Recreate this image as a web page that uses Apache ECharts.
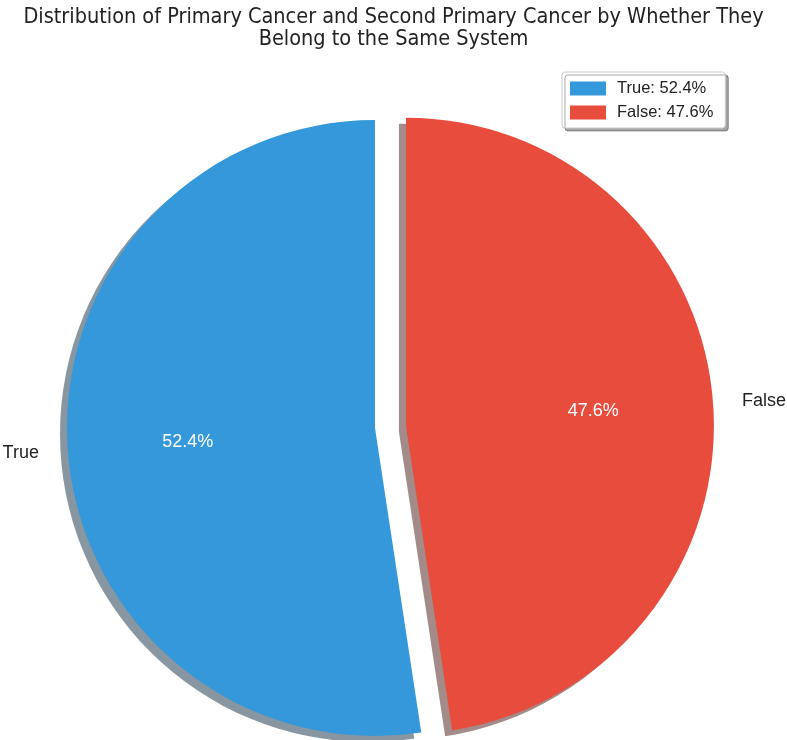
<!DOCTYPE html>
<html>
<head>
<meta charset="utf-8">
<script src="https://cdn.jsdelivr.net/npm/echarts@6/dist/echarts.min.js"></script>
<style>
  html, body { margin: 0; padding: 0; background: #fff; }
  #chart { width: 787px; height: 740px; }
</style>
</head>
<body>
<div id="chart"></div>
<script>
const categories = ['True', 'False'];
const percentages = [52.4, 47.6];
const explodedCategory = 'False';
const titleText = 'Distribution of Primary Cancer and Second Primary Cancer by Whether They\nBelong to the Same System';

const palette = ['#3498db', '#e74c3c'];
const shadowPalette = ['rgba(16,46,66,0.5)', 'rgba(69,23,18,0.5)'];

const R = 308;
const CENTER = [375, 428];
const EXPLODE = 31;

const mainData = categories.map((c, i) => ({
  name: c,
  value: percentages[i],
  selected: c === explodedCategory,
  itemStyle: { color: palette[i], shadowColor: shadowPalette[i] }
}));
const overlayData = categories.map((c, i) => ({
  name: c,
  value: percentages[i],
  selected: c === explodedCategory,
  itemStyle: { color: 'rgba(0,0,0,0)' }
}));

const chart = echarts.init(document.getElementById('chart'), null, { renderer: 'canvas' });
chart.setOption({
  animation: false,
  backgroundColor: '#ffffff',
  title: {
    text: titleText,
    left: 'center',
    top: 1,
    textStyle: {
      fontFamily: '"Liberation Sans Narrow", "DejaVu Sans Condensed", "Liberation Sans", sans-serif',
      fontSize: 21.5,
      lineHeight: 22,
      fontWeight: 'normal',
      color: '#222'
    }
  },
  legend: {
    orient: 'vertical',
    left: 562,
    top: 72,
    padding: [8, 12, 7, 8],
    itemWidth: 36,
    itemHeight: 14,
    itemGap: 7,
    icon: 'rect',
    backgroundColor: '#ffffff',
    borderColor: '#cccccc',
    borderWidth: 1,
    borderRadius: 3,
    shadowColor: 'rgba(0,0,0,0.35)',
    shadowBlur: 0,
    shadowOffsetX: 3,
    shadowOffsetY: 3,
    selectedMode: false,
    data: categories,
    formatter: function (name) {
      const i = categories.indexOf(name);
      return name + ': ' + percentages[i].toFixed(1) + '%';
    },
    textStyle: {
      fontFamily: '"Liberation Sans", Arial, sans-serif',
      fontSize: 16.5,
      color: '#222',
      padding: [0, 0, 0, 6]
    }
  },
  series: [
    {
      type: 'pie',
      name: 'main',
      center: CENTER,
      radius: R,
      startAngle: 90,
      clockwise: false,
      avoidLabelOverlap: false,
      selectedMode: 'single',
      selectedOffset: EXPLODE,
      silent: true,
      itemStyle: {
        borderWidth: 0,
        shadowBlur: 0,
        shadowOffsetX: -7,
        shadowOffsetY: 6
      },
      label: {
        show: true,
        position: 'outside',
        formatter: '{b}',
        fontFamily: '"Liberation Sans", Arial, sans-serif',
        fontSize: 18,
        color: '#222',
        distanceToLabelLine: 5
      },
      labelLine: { show: false, length: 19, length2: 5 },
      emphasis: { disabled: true },
      select: { disabled: false, itemStyle: { borderWidth: 0 } },
      data: mainData
    },
    {
      type: 'pie',
      name: 'pct',
      center: CENTER,
      radius: R * 1.2,
      startAngle: 90,
      clockwise: false,
      avoidLabelOverlap: false,
      selectedMode: 'single',
      selectedOffset: EXPLODE,
      silent: true,
      itemStyle: { borderWidth: 0 },
      label: {
        show: true,
        position: 'inside',
        formatter: function (p) { return p.value.toFixed(1) + '%'; },
        fontFamily: '"Liberation Sans", Arial, sans-serif',
        fontSize: 18,
        color: '#ffffff'
      },
      labelLine: { show: false },
      emphasis: { disabled: true },
      data: overlayData
    }
  ]
});
</script>
</body>
</html>
